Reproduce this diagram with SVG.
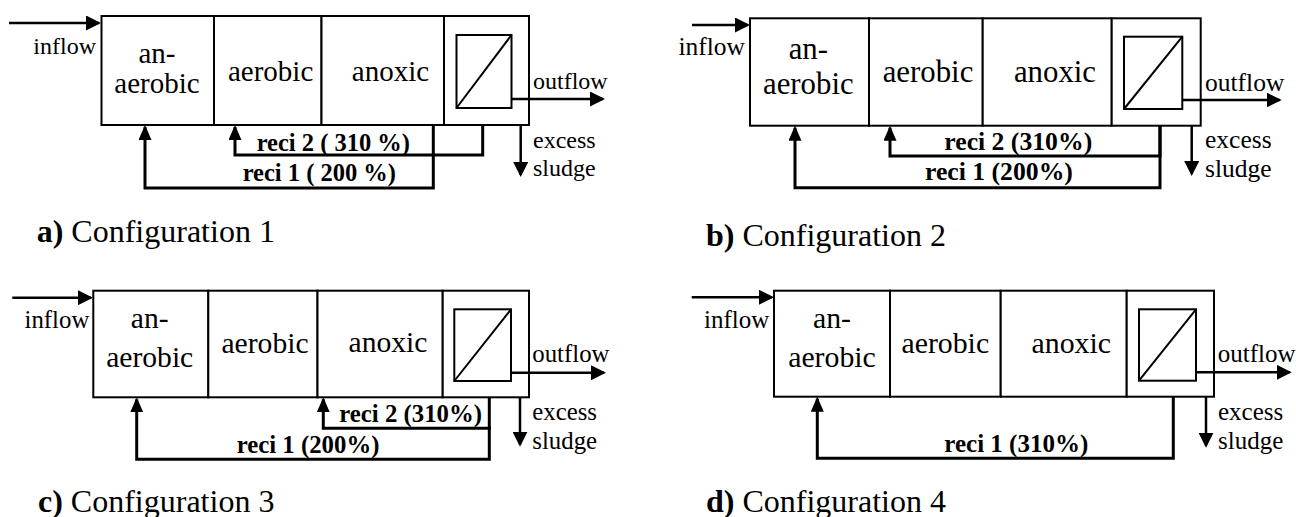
<svg xmlns="http://www.w3.org/2000/svg" width="1296" height="517" viewBox="0 0 1296 517">
<style>
.box{fill:#fff;stroke:#000;stroke-width:2}
.mem{fill:none;stroke:#000;stroke-width:2}
.flow{fill:none;stroke:#000;stroke-width:2.5}
.reci{fill:none;stroke:#000;stroke-width:3}
text{font-family:"Liberation Serif","Times New Roman",serif;fill:#000}
.c{text-anchor:middle}
.e{text-anchor:end}
.b{font-weight:bold}
</style>
<defs>
<marker id="ah" markerUnits="userSpaceOnUse" viewBox="0 0 15 15" markerWidth="15" markerHeight="15" refX="13" refY="7.5" orient="auto">
<path d="M0,0 L15,7.5 L0,15 z" fill="#000"/>
</marker>
<marker id="rh" markerUnits="userSpaceOnUse" viewBox="0 0 15 13" markerWidth="15" markerHeight="13" refX="13" refY="6.5" orient="auto">
<path d="M0,0 L15,6.5 L0,13 z" fill="#000"/>
</marker>
</defs>

<!-- Panel a -->
<g id="panel-a">
<g id="a-anaerobic"><rect class="box" x="101.5" y="16" width="112.5" height="109"/><text class="c" x="157" y="63" font-size="29">an-</text><text class="c" x="157" y="93" font-size="29">aerobic</text></g>
<g id="a-aerobic"><rect class="box" x="214" y="16" width="107.5" height="109"/><text class="c" x="270.6" y="81" font-size="29">aerobic</text></g>
<g id="a-anoxic"><rect class="box" x="321.5" y="16" width="122.5" height="109"/><text class="c" x="390.5" y="81" font-size="29">anoxic</text></g>
<g id="a-membrane"><rect class="box" x="444" y="16" width="85" height="109"/><rect class="mem" x="456.5" y="35" width="55" height="73"/><line class="mem" x1="456.5" y1="108" x2="511.5" y2="35"/></g>
<g id="a-connectors">
<line class="flow" x1="9" y1="23" x2="99" y2="23" marker-end="url(#ah)"/>
<line class="flow" x1="511.5" y1="99" x2="603" y2="99" marker-end="url(#ah)"/>
<line class="flow" x1="520.7" y1="125" x2="520.7" y2="175" marker-end="url(#ah)"/>
<path class="reci" d="M482.7,125 V155 H235 V127" marker-end="url(#rh)"/>
<path class="reci" d="M433.3,125 V188 H145 V127" marker-end="url(#rh)"/>
</g>
<text class="e" x="96" y="54" font-size="24">inflow</text>
<text x="533" y="89" font-size="24">outflow</text>
<text x="533" y="148" font-size="24">excess</text>
<text x="533" y="176" font-size="24">sludge</text>
<text class="b" x="256.7" y="151" font-size="24.5">reci 2 ( 310 %)</text>
<text class="b" x="242.7" y="181" font-size="24.5">reci 1 ( 200 %)</text>
<text x="36.7" y="242" font-size="32"><tspan font-weight="bold">a)</tspan> Configuration 1</text>
</g>

<!-- Panel b -->
<g id="panel-b">
<g id="b-anaerobic"><rect class="box" x="750" y="18.3" width="119" height="107.4"/><text class="c" x="808.3" y="59" font-size="30.8">an-</text><text class="c" x="808.3" y="94" font-size="30.8">aerobic</text></g>
<g id="b-aerobic"><rect class="box" x="869" y="18.3" width="113.7" height="107.4"/><text class="c" x="928" y="82" font-size="30.8">aerobic</text></g>
<g id="b-anoxic"><rect class="box" x="982.7" y="18.3" width="129" height="107.4"/><text class="c" x="1055" y="82" font-size="30.8">anoxic</text></g>
<g id="b-membrane"><rect class="box" x="1111.7" y="18.3" width="89" height="107.4"/><rect class="mem" x="1124" y="36.7" width="58.3" height="72.3"/><line class="mem" x1="1124" y1="109" x2="1182.3" y2="36.7"/></g>
<g id="b-connectors">
<line class="flow" x1="692" y1="25" x2="748" y2="25" marker-end="url(#ah)"/>
<line class="flow" x1="1182.3" y1="100" x2="1279.7" y2="100" marker-end="url(#ah)"/>
<line class="flow" x1="1191.7" y1="125.7" x2="1191.7" y2="174" marker-end="url(#ah)"/>
<path class="reci" d="M1160,125.7 V156 H890 V127.7" marker-end="url(#rh)"/>
<path class="reci" d="M1160,125.7 V187.7 H795 V127.7" marker-end="url(#rh)"/>
</g>
<text class="e" x="745" y="55" font-size="25.5">inflow</text>
<text x="1205" y="90.7" font-size="25.5">outflow</text>
<text x="1205" y="148" font-size="25.5">excess</text>
<text x="1205" y="177" font-size="25.5">sludge</text>
<text class="b" x="944.3" y="150" font-size="25.7">reci 2 (310%)</text>
<text class="b" x="925" y="180" font-size="25.7">reci 1 (200%)</text>
<text x="706" y="246" font-size="32"><tspan font-weight="bold">b)</tspan> Configuration 2</text>
</g>

<!-- Panel c -->
<g id="panel-c">
<g id="c-anaerobic"><rect class="box" x="93.3" y="290.7" width="115" height="106.6"/><text class="c" x="149.7" y="328" font-size="29.6">an-</text><text class="c" x="149.7" y="366.7" font-size="29.6">aerobic</text></g>
<g id="c-aerobic"><rect class="box" x="208.3" y="290.7" width="109.2" height="106.6"/><text class="c" x="265" y="353.3" font-size="29.6">aerobic</text></g>
<g id="c-anoxic"><rect class="box" x="317.5" y="290.7" width="125.2" height="106.6"/><text class="c" x="388" y="351.7" font-size="29.6">anoxic</text></g>
<g id="c-membrane"><rect class="box" x="442.7" y="290.7" width="86.3" height="106.6"/><rect class="mem" x="454.3" y="309.3" width="56.7" height="71.7"/><line class="mem" x1="454.3" y1="381" x2="511" y2="309.3"/></g>
<g id="c-connectors">
<line class="flow" x1="12.3" y1="297.7" x2="91" y2="297.7" marker-end="url(#ah)"/>
<line class="flow" x1="511" y1="372.7" x2="604" y2="372.7" marker-end="url(#ah)"/>
<line class="flow" x1="520" y1="397.3" x2="520" y2="444.7" marker-end="url(#ah)"/>
<path class="reci" d="M491,428.3 H323.3 V399.3" marker-end="url(#rh)"/>
<path class="reci" d="M489.3,397.3 V459.3 H136.7 V399.3" marker-end="url(#rh)"/>
</g>
<text class="e" x="89.3" y="328.3" font-size="24.8">inflow</text>
<text x="532.3" y="361.7" font-size="24.8">outflow</text>
<text x="532.3" y="420" font-size="24.8">excess</text>
<text x="532.3" y="449" font-size="24.8">sludge</text>
<text class="b" x="339.3" y="421.7" font-size="24.8">reci 2 (310%)</text>
<text class="b" x="236.7" y="453.3" font-size="24.8">reci 1 (200%)</text>
<text x="38" y="511.7" font-size="32"><tspan font-weight="bold">c)</tspan> Configuration 3</text>
</g>

<!-- Panel d -->
<g id="panel-d">
<g id="d-anaerobic"><rect class="box" x="774" y="290.7" width="116" height="106"/><text class="c" x="832" y="328" font-size="29.8">an-</text><text class="c" x="832" y="366.7" font-size="29.8">aerobic</text></g>
<g id="d-aerobic"><rect class="box" x="890" y="290.7" width="110.7" height="106"/><text class="c" x="945.3" y="353.3" font-size="29.8">aerobic</text></g>
<g id="d-anoxic"><rect class="box" x="1000.7" y="290.7" width="126" height="106"/><text class="c" x="1071.3" y="352.7" font-size="29.8">anoxic</text></g>
<g id="d-membrane"><rect class="box" x="1126.7" y="290.7" width="87.3" height="106"/><rect class="mem" x="1139" y="309.3" width="57" height="71.4"/><line class="mem" x1="1139" y1="380.7" x2="1196" y2="309.3"/></g>
<g id="d-connectors">
<line class="flow" x1="691.7" y1="297.3" x2="772" y2="297.3" marker-end="url(#ah)"/>
<line class="flow" x1="1196" y1="372.3" x2="1289.7" y2="372.3" marker-end="url(#ah)"/>
<line class="flow" x1="1206" y1="396.7" x2="1206" y2="445.7" marker-end="url(#ah)"/>
<path class="reci" d="M1173.3,396.7 V458.3 H817.3 V398.7" marker-end="url(#rh)"/>
</g>
<text class="e" x="769.3" y="328.3" font-size="25">inflow</text>
<text x="1217.7" y="361.7" font-size="25">outflow</text>
<text x="1218" y="420" font-size="25">excess</text>
<text x="1218" y="449" font-size="25">sludge</text>
<text class="b" x="944.3" y="451.7" font-size="25">reci 1 (310%)</text>
<text x="706" y="511.7" font-size="32"><tspan font-weight="bold">d)</tspan> Configuration 4</text>
</g>
</svg>
